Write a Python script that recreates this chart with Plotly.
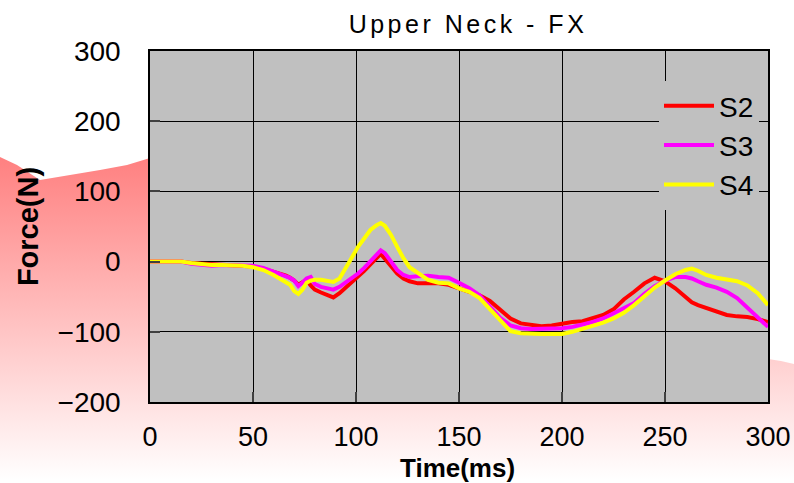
import base64
import plotly.graph_objects as go

# ---- data ----
time_ms = [0, 5, 10, 15, 20, 25, 30, 35, 40, 45, 50, 55, 60, 63, 66, 68, 70, 72, 74, 76, 78, 80,
           83, 86, 89, 92, 95, 98, 101, 104, 107, 110, 112, 114, 117, 120, 123, 126, 130, 135,
           140, 145, 150, 155, 160, 165, 170, 175, 180, 185, 190, 195, 200, 205, 210, 215, 220,
           225, 230, 235, 240, 245, 250, 255, 260, 263, 266, 270, 275, 280, 285, 290, 295, 300]

s2 = [0, 0, 0, 0, -2, -3, -4, -5, -5, -6, -7, -10, -14, -17, -20, -23, -27, -33, -30, -26, -34, -40,
      -44, -48, -51, -45, -37, -29, -22, -13, -4, 6, 11, 4, -6, -17, -24, -28, -31, -31,
      -31, -33, -38, -43, -48, -56, -68, -81, -88, -90, -92, -91, -88, -86, -85, -81, -76,
      -68, -54, -43, -31, -23, -28, -38, -50, -58, -62, -66, -70, -76, -78, -79, -82, -86]

s3 = [0, 0, 0, 0, -3, -5, -6, -5, -5, -5, -6, -9, -14, -17, -20, -23, -27, -35, -30, -24, -22, -32,
      -36, -38, -40, -36, -30, -24, -17, -9, 0, 10, 16, 12, 0, -12, -19, -22, -21, -20,
      -22, -23, -30, -38, -48, -63, -80, -91, -95, -96, -96, -96, -95, -93, -90, -86, -81,
      -74, -67, -59, -46, -35, -27, -22, -22, -24, -28, -33, -37, -43, -52, -66, -79, -93]

s4 = [0, 0, 0, 0, -2, -4, -5, -5, -5, -6, -8, -12, -19, -24, -29, -33, -42, -46, -40, -30, -27, -26,
      -26, -28, -29, -24, -8, 6, 21, 33, 45, 52, 55, 51, 38, 21, 5, -8, -16, -26,
      -30, -31, -38, -43, -52, -68, -85, -99, -102, -103, -103, -103, -103, -100, -96, -91, -87,
      -81, -73, -62, -50, -37, -27, -18, -12, -10, -13, -19, -23, -25, -28, -34, -45, -62]

series_names = ["S2", "S3", "S4"]
series_colors = ["#ff0000", "#ff00ff", "#ffff00"]
x_ticks = [0, 50, 100, 150, 200, 250, 300]
y_ticks = [-200, -100, 0, 100, 200, 300]
x_title = "Time(ms)"
y_title = "Force(N)"
chart_title = "Upper Neck - FX"

FONT = "Liberation Sans, Arial, sans-serif"
W, H = 794, 483
ML, MR, MT, MB = 150, 26, 51, 81
PW, PH = W - ML - MR, H - MT - MB

fig = go.Figure()
for name, vals, col in zip(series_names, [s2, s3, s4], series_colors):
    fig.add_trace(go.Scatter(x=time_ms, y=vals, name=name, mode="lines",
                             line=dict(color=col, width=4)))

# decorative background (red wave with vertical gradient)
svg = (
    '<svg xmlns="http://www.w3.org/2000/svg" width="794" height="483" viewBox="0 0 794 483">'
    '<defs><linearGradient id="g" x1="0" y1="157" x2="0" y2="480" gradientUnits="userSpaceOnUse">'
    '<stop offset="0" stop-color="#ff8080"/><stop offset="1" stop-color="#ffffff"/>'
    '</linearGradient></defs>'
    '<path d="M0,157 L17,165 L40,180 L70,175 L100,170 L127,165 L150,158 L150,402 '
    'L768,402 L768,359 L781,361 L794,364 L794,483 L0,483 Z" fill="url(#g)"/></svg>'
)
src = "data:image/svg+xml;base64," + base64.b64encode(svg.encode()).decode()
fig.add_layout_image(dict(source=src, xref="paper", yref="paper",
                          x=-ML / PW, y=1 + MT / PH, sizex=W / PW, sizey=H / PH,
                          xanchor="left", yanchor="top", sizing="stretch", layer="below"))

axis_common = dict(showgrid=True, gridcolor="#000000", gridwidth=1, zeroline=False,
                   showline=True, linecolor="#000000", linewidth=1.5, mirror=True,
                   ticks="inside", ticklen=10, tickwidth=2, tickcolor="#404040",
                   automargin=False)

fig.update_layout(
    width=W, height=H,
    margin=dict(l=ML, r=MR, t=MT, b=MB, autoexpand=False),
    paper_bgcolor="#ffffff", plot_bgcolor="#c0c0c0",
    title=dict(text=chart_title, x=468 / W, xanchor="center", xref="container",
               y=1 - 24 / H, yanchor="middle", yref="container",
               font=dict(family=FONT, size=25, color="#000000")),
    xaxis=dict(range=[0, 300], tickvals=x_ticks, ticklabelstandoff=10,
               tickfont=dict(family=FONT, size=27, color="#000000"), **axis_common),
    yaxis=dict(range=[-200, 300], tickvals=y_ticks, ticklabelstandoff=22,
               tickfont=dict(family=FONT, size=28, color="#000000"),
               title=dict(text="<b>" + y_title + "</b>", standoff=10,
                          font=dict(family=FONT, size=29, color="#000000")),
               **axis_common),
    legend=dict(x=(659 - ML) / PW, y=1 - (81 - MT) / PH, xanchor="left", yanchor="top",
                bgcolor="#c0c0c0", borderwidth=0, itemwidth=50,
                font=dict(family=FONT, size=28, color="#000000")),
    showlegend=True,
)
fig.add_annotation(text="<b>" + x_title + "</b>", xref="paper", yref="paper",
                   x=(457 - ML) / PW, y=-(468 - (MT + PH)) / PH,
                   xanchor="center", yanchor="middle", showarrow=False,
                   font=dict(family=FONT, size=26, color="#000000"))

post = ("document.querySelectorAll('.gtitle').forEach(function(e){"
        "e.style.letterSpacing='3.5px';});")
fig.write_html("out.html", post_script=post)
